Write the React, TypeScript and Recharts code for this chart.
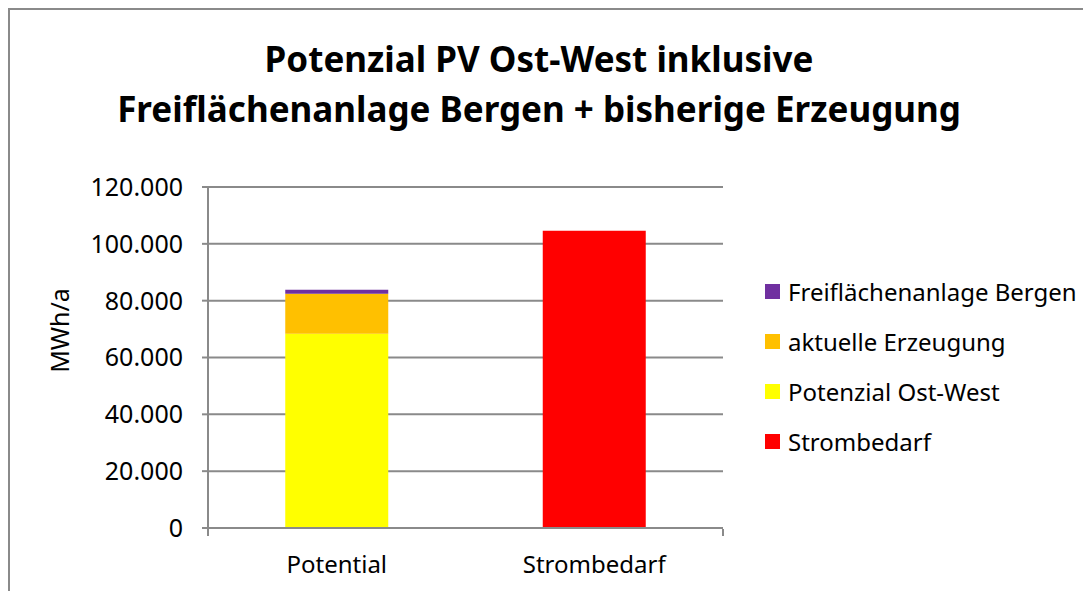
import React from 'react';
import { BarChart, Bar, XAxis, YAxis, CartesianGrid, Legend, Label } from 'recharts';

const categories = ['Potential', 'Strombedarf'];
const strombedarf = [0, 104600];
const potenzialOstWest = [68400, 0];
const aktuelleErzeugung = [14000, 0];
const freiflaeche = [1400, 0];
const yTicks = [0, 20000, 40000, 60000, 80000, 100000, 120000];
const edgeTicks = [0, 1, 2];

const data = categories.map((name, i) => ({
  name,
  strombedarf: strombedarf[i],
  potenzial: potenzialOstWest[i],
  aktuell: aktuelleErzeugung[i],
  frei: freiflaeche[i],
}));

// stacking order bottom -> top; legend shows it reversed
const series = [
  { key: 'strombedarf', name: 'Strombedarf', color: '#FF0000' },
  { key: 'potenzial', name: 'Potenzial Ost-West', color: '#FFFF00' },
  { key: 'aktuell', name: 'aktuelle Erzeugung', color: '#FFC000' },
  { key: 'frei', name: 'Freiflächenanlage Bergen', color: '#7030A0' },
];

const font = '"Noto Sans", sans-serif';
const gray = '#8a8a8a';

const fmt = (v: number) => String(v).replace(/\B(?=(\d{3})+(?!\d))/g, '.');

const LegendBox = () => (
  <div style={{ fontFamily: font }}>
    {[...series].reverse().map((s) => (
      <div key={s.key} style={{ display: 'flex', alignItems: 'center', height: 50 }}>
        <span style={{ width: 15, height: 15, background: s.color, marginRight: 8 }} />
        <span style={{ fontSize: 24, color: '#000' }}>{s.name}</span>
      </div>
    ))}
  </div>
);

export default function App() {
  return (
    <div
      style={{
        position: 'relative',
        width: 1083,
        height: 583,
        borderTop: `2px solid ${gray}`,
        borderLeft: `2px solid ${gray}`,
        boxSizing: 'border-box',
        overflow: 'hidden',
        background: '#fff',
      }}
    >
      <div
        style={{
          position: 'absolute',
          left: -8,
          top: 24,
          width: 1074,
          textAlign: 'center',
          fontFamily: font,
          fontWeight: 'bold',
          fontSize: 35,
          lineHeight: '50px',
          color: '#000',
        }}
      >
        <div>Potenzial PV Ost-West inklusive</div>
        <div>Freiflächenanlage Bergen + bisherige Erzeugung</div>
      </div>
      <BarChart
        width={1081}
        height={581}
        data={data}
        margin={{ top: 177, right: 368, bottom: 61, left: 98 }}
        barCategoryGap="30%"
        style={{ fontFamily: font }}
      >
        <CartesianGrid vertical={false} stroke={gray} strokeWidth={2} />
        <XAxis
          dataKey="name"
          height={1}
          tickLine={false}
          tickSize={0}
          tickMargin={28}
          axisLine={{ stroke: gray, strokeWidth: 2 }}
          tick={{ fill: '#000', fontSize: 24 }}
        />
        <XAxis
          xAxisId="edges"
          type="number"
          domain={[0, 2]}
          ticks={edgeTicks}
          height={1}
          axisLine={false}
          tickSize={7}
          tickLine={{ stroke: gray, strokeWidth: 2 }}
          tickFormatter={() => ''}
        />
        <YAxis
          width={100}
          domain={[0, 120000]}
          ticks={yTicks}
          tickFormatter={fmt}
          tickSize={6}
          tickMargin={19}
          axisLine={{ stroke: gray, strokeWidth: 2 }}
          tickLine={{ stroke: gray, strokeWidth: 2 }}
          tick={{ fill: '#000', fontSize: 25 }}
        >
          <Label
            content={({ viewBox }: any) => (
              <text
                x={viewBox.x - 49}
                y={viewBox.y + viewBox.height / 2 - 27}
                transform={`rotate(-90, ${viewBox.x - 49}, ${viewBox.y + viewBox.height / 2 - 27})`}
                textAnchor="middle"
                dominantBaseline="central"
                fontSize={25}
                fontFamily={font}
                fill="#000"
              >
                MWh/a
              </text>
            )}
          />
        </YAxis>
        <Legend
          layout="vertical"
          align="center"
          verticalAlign="middle"
          content={<LegendBox />}
          wrapperStyle={{ position: 'absolute', left: 755, top: 256, width: 320 }}
        />
        {series.map((s) => (
          <Bar key={s.key} dataKey={s.key} name={s.name} stackId="a" fill={s.color} isAnimationActive={false} />
        ))}
      </BarChart>
    </div>
  );
}
